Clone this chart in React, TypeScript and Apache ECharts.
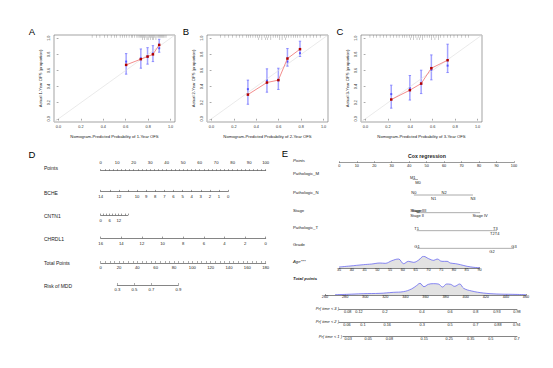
import React, { useEffect, useRef } from "react";
import * as echarts from "echarts";

const FONT = "'Liberation Sans', Arial, Helvetica, sans-serif";

// ===== Calibration panels A, B, C =====
const calTicks = [0, 0.2, 0.4, 0.6, 0.8, 1.0];
const calLimits = [-0.04, 1.04];

const aPred = [0.604, 0.735, 0.795, 0.843, 0.899];
const aObs = [0.669, 0.74, 0.772, 0.8, 0.917];
const aCorr = [0.71, 0.75, 0.775, 0.81, 0.876];
const aLo = [0.554, 0.628, 0.678, 0.71, 0.826];
const aHi = [0.809, 0.867, 0.883, 0.908, 0.987];
const aRug = [0.3, 0.34, 0.37, 0.41, 0.44, 0.47, 0.5, 0.52, 0.55, 0.57, 0.59, 0.61, 0.63, 0.65, 0.66, 0.68, 0.7, 0.71, 0.72, 0.73, 0.74, 0.75, 0.76, 0.77, 0.78, 0.79, 0.8, 0.81, 0.82, 0.83, 0.84, 0.85, 0.86, 0.87, 0.88, 0.89, 0.9, 0.91, 0.92, 0.93, 0.94, 0.95, 0.96];
const aRug2 = [0.75, 0.77, 0.79, 0.8, 0.82, 0.84, 0.85, 0.87];

const bPred = [0.325, 0.495, 0.597, 0.678, 0.79];
const bObs = [0.3, 0.45, 0.48, 0.748, 0.864];
const bCorr = [0.368, 0.475, 0.48, 0.71, 0.814];
const bLo = [0.18, 0.33, 0.364, 0.653, 0.773];
const bHi = [0.48, 0.62, 0.628, 0.872, 0.963];
const bRug = [0.08, 0.12, 0.15, 0.19, 0.22, 0.25, 0.28, 0.31, 0.33, 0.35, 0.37, 0.39, 0.41, 0.43, 0.45, 0.47, 0.49, 0.51, 0.53, 0.55, 0.57, 0.59, 0.61, 0.63, 0.65, 0.67, 0.69, 0.71, 0.73, 0.75, 0.77, 0.79, 0.82, 0.85, 0.88, 0.91, 0.94, 0.97];
const bRug2 = [0.42, 0.45, 0.48, 0.5, 0.53, 0.61, 0.63, 0.66];

const cPred = [0.23, 0.396, 0.497, 0.588, 0.733];
const cObs = [0.239, 0.355, 0.437, 0.628, 0.727];
const cCorr = [0.306, 0.38, 0.437, 0.607, 0.66];
const cLo = [0.132, 0.232, 0.313, 0.483, 0.574];
const cHi = [0.417, 0.537, 0.603, 0.793, 0.926];
const cRug = [0.04, 0.07, 0.1, 0.13, 0.16, 0.19, 0.22, 0.25, 0.28, 0.3, 0.33, 0.35, 0.37, 0.39, 0.41, 0.43, 0.45, 0.47, 0.49, 0.51, 0.53, 0.55, 0.57, 0.59, 0.61, 0.63, 0.65, 0.67, 0.7, 0.73, 0.76, 0.79, 0.82, 0.86, 0.89, 0.92];
const cRug2 = [0.4, 0.43, 0.46, 0.48, 0.51, 0.59, 0.62, 0.65];

// ===== Nomogram D =====
const dPointsLabels = [0, 10, 20, 30, 40, 50, 60, 70, 80, 90, 100];
const bcheLabels = [14, 12, 10, 9, 8, 7, 6, 5, 4, 3, 2, 1, 0];
const bcheValueRange = [14, 0];
const bchePointRange = [0, 77.2];
const cntn1Labels = [0, 6, 12];
const cntn1ValueRange = [0, 18];
const cntn1PointRange = [0, 16.4];
const chrdl1Labels = [16, 14, 12, 10, 8, 6, 4, 2, 0];
const chrdl1ValueRange = [16, 0];
const chrdl1PointRange = [0, 100];
const dTotalLabels = [0, 20, 40, 60, 80, 100, 120, 140, 160, 180];
const riskLabels = ["0.3", "0.5", "0.7", "0.9"];
const riskTotalPoints = [18.1, 36.7, 55.2, 84.7];

// ===== Nomogram E (Cox regression) =====
const ePointsLabels = [0, 10, 20, 30, 40, 50, 60, 70, 80, 90, 100];
const mLevels = ["M1", "M0"];
const mPoints = [42, 45];
const nLevels = ["N0", "N1", "N2", "N3"];
const nPoints = [42.7, 54, 60, 76.5];
const stageLevels = ["Stage I", "Stage II", "Stage III", "Stage IV"];
const stagePoints = [44.3, 44.5, 45.6, 80.6];
const tLevels = ["T1", "T2", "T3", "T4"];
const tPoints = [44.3, 87.6, 89.3, 90.3];
const gradeLevels = ["G1", "G2", "G3"];
const gradePoints = [44.5, 87.4, 100];
const ageLabels = [35, 40, 45, 50, 55, 60, 65, 70, 75, 80, 85, 90];
const ageDensX = [35, 39.3, 44.6, 47.8, 51.1, 53.1, 55.7, 58.3, 60.3, 62.2, 64.2, 66.2, 68.1, 70.1, 72.1, 73.4, 75.3, 77.3, 78.6, 80.6, 82.5, 85.2, 87.8, 90];
const ageDensY = [3, 6, 10, 12, 15, 14, 22, 27, 13, 20, 17, 24, 35, 28, 23, 27, 20, 20, 15, 13, 10, 5, 2, 1];
const eTotalLabels = [260, 280, 300, 320, 340, 360, 380, 400, 420, 440, 460];
const totDensX = [270, 281.6, 298, 314.7, 328, 338, 346, 351, 354.5, 358.5, 362.8, 367.8, 372.8, 377, 381, 385, 389, 394, 398, 406, 417.5, 431, 447, 460];
const totDensY = [1, 2, 4, 5, 8, 10, 18, 28, 35, 25, 32, 34, 33, 24, 33, 32, 26, 33, 20, 12, 6, 3, 2, 1];
const pr3Labels = ["0.08", "0.12", "0.2", "0.4", "0.6", "0.8", "0.93", "0.98"];
const pr3TotalPoints = [282.6, 293.8, 319.7, 356.5, 384.4, 410, 431, 451];
const pr2Labels = ["0.06", "0.1", "0.16", "0.3", "0.5", "0.7", "0.88", "0.94"];
const pr2TotalPoints = [281.8, 297.7, 321.9, 356.7, 384.4, 410, 432, 450.7];
const pr1Labels = ["0.03", "0.05", "0.08", "0.15", "0.25", "0.35", "0.5", "0.7"];
const pr1TotalPoints = [283, 303, 324, 358.7, 383.6, 405, 425, 451];

function steps(a: number, b: number, s: number) {
  const r: number[] = [];
  for (let v = a; v <= b + 1e-9; v += s) r.push(Math.round(v * 1000) / 1000);
  return r;
}

function buildOption() {
  const grid: any[] = [];
  const xAxis: any[] = [];
  const yAxis: any[] = [];
  const series: any[] = [];
  const graphic: any[] = [];

  const text = (x: number, y: number, t: string, o: any = {}) =>
    graphic.push({
      type: "text",
      x,
      y,
      silent: true,
      style: { text: t, fontFamily: FONT, fontSize: 5, fill: "#222", textAlign: "left", textVerticalAlign: "middle", ...o },
    });

  const addGrid = (left: number, top: number, width: number, height: number, extra: any = {}) => {
    const gi = grid.length;
    grid.push({ left, top, width, height, outerBoundsMode: "none", containLabel: false, ...extra });
    return gi;
  };

  // ---------- calibration ----------
  const calPanel = (left: number, pred: number[], obs: number[], corr: number[], lo: number[], hi: number[], rug: number[], rug2: number[], year: number) => {
    const gi = addGrid(left, 35, 121, 87, { show: true, borderColor: "#666", borderWidth: 0.6, backgroundColor: "transparent" });
    const common = {
      type: "value",
      gridIndex: gi,
      min: calLimits[0],
      max: calLimits[1],
      splitLine: { show: false },
      axisLine: { show: false },
      axisTick: { show: true, customValues: calTicks, length: 1.8, lineStyle: { color: "#555", width: 0.5 } },
    };
    const lab = { customValues: calTicks, formatter: (v: number) => v.toFixed(1), fontSize: 3.8, color: "#333", margin: 3, fontFamily: FONT };
    const nts = { fontSize: 4.2, color: "#222", fontFamily: FONT };
    xAxis.push({ ...common, axisLabel: lab, name: `Nomogram-Predicted Probability of ${year}-Year OFS`, nameLocation: "middle", nameGap: 12, nameTextStyle: nts });
    yAxis.push({ ...common, axisLabel: { ...lab, rotate: 90 }, name: `Actual ${year}-Year OFS (proportion)`, nameLocation: "middle", nameGap: 12, nameTextStyle: nts });
    const base = { xAxisIndex: gi, yAxisIndex: gi, silent: true, animation: false };
    series.push({ ...base, type: "line", data: calLimits.map((v) => [v, v]), showSymbol: false, lineStyle: { color: "#dcdcdc", width: 0.6 } });
    series.push({ ...base, type: "scatter", data: rug.map((v) => [v, 1.022]), symbol: "rect", symbolSize: [0.4, 2.8], itemStyle: { color: "#666" } });
    series.push({ ...base, type: "scatter", data: rug2.map((v) => [v, 0.994]), symbol: "rect", symbolSize: [0.4, 2.6], itemStyle: { color: "#666" } });
    series.push({
      ...base,
      type: "custom",
      data: pred.map((p, i) => [p, lo[i], hi[i]]),
      renderItem: (_p: any, api: any) => {
        const x = api.value(0);
        const a = api.coord([x, api.value(1)]);
        const b = api.coord([x, api.value(2)]);
        const c = 1.2;
        return {
          type: "group",
          children: [
            { type: "line", shape: { x1: a[0], y1: a[1], x2: b[0], y2: b[1] }, style: { stroke: "#a4a4ff", lineWidth: 1.5 } },
            { type: "line", shape: { x1: a[0] - c, y1: a[1], x2: a[0] + c, y2: a[1] }, style: { stroke: "#6a6aff", lineWidth: 0.7 } },
            { type: "line", shape: { x1: b[0] - c, y1: b[1], x2: b[0] + c, y2: b[1] }, style: { stroke: "#6a6aff", lineWidth: 0.7 } },
          ],
        };
      },
    });
    series.push({ ...base, type: "line", data: pred.map((p, i) => [p, obs[i]]), symbol: "rect", symbolSize: 2.5, itemStyle: { color: "#b00000" }, lineStyle: { color: "#f08080", width: 0.9 } });
    series.push({ ...base, type: "scatter", data: pred.map((p, i) => [p, corr[i]]), symbol: "rect", symbolSize: 2, itemStyle: { color: "#4040ff" } });
  };

  calPanel(54, aPred, aObs, aCorr, aLo, aHi, aRug, aRug2, 1);
  calPanel(207, bPred, bObs, bCorr, bLo, bHi, bRug, bRug2, 2);
  calPanel(361, cPred, cObs, cCorr, cLo, cHi, cRug, cRug2, 3);

  const letter = { fontSize: 9.5, fill: "#000", textAlign: "center" };
  text(32, 31, "A", letter);
  text(186, 31, "B", letter);
  text(340, 31, "C", letter);
  text(32, 154, "D", letter);
  text(285, 153, "E", letter);

  // ---------- generic nomogram row axis ----------
  const hiddenY = (gi: number, min = -1, max = 1) => yAxis.push({ type: "value", gridIndex: gi, show: false, min, max });
  const rowAxis = (gi: number, min: number, max: number, o: any) => {
    const labVals: number[] = o.labels;
    const names: string[] | undefined = o.names;
    xAxis.push({
      type: "value",
      gridIndex: gi,
      min,
      max,
      show: o.show !== false,
      inverse: !!o.inverse,
      position: o.position || "bottom",
      splitLine: { show: false },
      axisLine: { show: true, lineStyle: { color: o.lineColor || "#333", width: 0.6 } },
      axisTick: { show: o.tickLen > 0, inside: !!o.tickInside, length: o.tickLen || 0, customValues: o.ticks || labVals, lineStyle: { color: "#333", width: 0.5 } },
      axisLabel: {
        customValues: labVals,
        fontSize: o.fontSize || 4.2,
        color: "#222",
        margin: o.margin ?? 2,
        fontFamily: FONT,
        showMinLabel: true,
        showMaxLabel: true,
        formatter: (v: number) => {
          if (!names) return String(v);
          let best = 0;
          labVals.forEach((lv, i) => {
            if (Math.abs(lv - v) < Math.abs(labVals[best] - v)) best = i;
          });
          return names[best];
        },
      },
    });
  };

  // ---------- Nomogram D ----------
  const DX0 = 100.7;
  const DW = 165;
  const dRow = (label: string, labelY: number) => text(44, labelY, label, { fontSize: 5 });

  // Points
  let gi = addGrid(DX0, 170, DW, 1);
  rowAxis(gi, 0, 100, { labels: dPointsLabels, ticks: steps(0, 100, 2.5), position: "top", tickLen: 1.3, margin: 5.5 });
  hiddenY(gi);
  dRow("Points", 168);

  const varRow = (label: string, y: number, valueRange: number[], pointRange: number[], labels: number[], ticks: number[]) => {
    const pMin = Math.min(pointRange[0], pointRange[1]);
    const pMax = Math.max(pointRange[0], pointRange[1]);
    const g = addGrid(DX0 + (pMin / 100) * DW, y - 1, ((pMax - pMin) / 100) * DW, 1);
    const vMin = Math.min(valueRange[0], valueRange[1]);
    const vMax = Math.max(valueRange[0], valueRange[1]);
    const inverse = (valueRange[1] - valueRange[0]) * (pointRange[1] - pointRange[0]) < 0;
    rowAxis(g, vMin, vMax, { labels, ticks, inverse, tickLen: 1.6, tickInside: true, margin: 2.5 });
    hiddenY(g);
    dRow(label, y + 0.5);
  };
  varRow("BCHE", 192, bcheValueRange, bchePointRange, bcheLabels, steps(0, 14, 1));
  varRow("CNTN1", 215.7, cntn1ValueRange, cntn1PointRange, cntn1Labels, steps(0, 18, 2));
  varRow("CHRDL1", 238.7, chrdl1ValueRange, chrdl1PointRange, chrdl1Labels, chrdl1Labels);

  gi = addGrid(DX0, 262.3, DW, 1);
  rowAxis(gi, 0, 180, { labels: dTotalLabels, ticks: steps(0, 180, 5), tickLen: 1.6, tickInside: true, margin: 2.5 });
  hiddenY(gi);
  dRow("Total Points", 262.7);

  const riskLeft = DX0 + (riskTotalPoints[0] / 180) * DW;
  const riskW = ((riskTotalPoints[3] - riskTotalPoints[0]) / 180) * DW;
  gi = addGrid(riskLeft, 284.3, riskW, 1);
  rowAxis(gi, riskTotalPoints[0], riskTotalPoints[3], { labels: riskTotalPoints, names: riskLabels, tickLen: 1.6, tickInside: true, margin: 2.5 });
  hiddenY(gi);
  dRow("Risk of MDD", 286);

  // ---------- Nomogram E ----------
  const EX0 = 339.3;
  const EW = 174.7;
  const eFont = 4;
  const eLab = (y: number, t: string, o: any = {}) => text(293, y, t, { fontSize: 4.3, ...o });

  text(427, 156, "Cox regression", { fontSize: 5.2, fontWeight: "bold", textAlign: "center" });

  gi = addGrid(EX0, 162, EW, 1);
  rowAxis(gi, 0, 100, { labels: ePointsLabels, tickLen: 1.2, tickInside: true, fontSize: 3.8, margin: 0.6, lineColor: "#555" });
  hiddenY(gi);
  eLab(160, "Points", { fontStyle: "italic" });

  const catRow = (label: string, labelY: number, lineY: number, levels: string[], pts: number[]) => {
    const g = addGrid(EX0, lineY - 0.5, EW, 1);
    xAxis.push({ type: "value", gridIndex: g, min: 0, max: 100, show: false });
    hiddenY(g);
    series.push({
      type: "line",
      xAxisIndex: g,
      yAxisIndex: g,
      silent: true,
      data: pts.map((p, i) => ({
        value: [p, 0],
        label: {
          show: true,
          position: i % 2 === 0 ? "top" : "bottom",
          distance: i % 2 === 0 ? 0.2 : 1.2,
          formatter: levels[i],
          fontSize: eFont,
          color: "#222",
          fontFamily: FONT,
        },
      })),
      showSymbol: true,
      symbol: "circle",
      symbolSize: 0.01,
      itemStyle: { color: "#999" },
      lineStyle: { color: "#a0a0a0", width: 0.9 },
    });
    eLab(labelY, label);
  };
  catRow("Pathologic_M", 173, 179.5, mLevels, mPoints);
  catRow("Pathologic_N", 192, 195, nLevels, nPoints);
  catRow("Stage", 210, 212.7, stageLevels, stagePoints);
  catRow("Pathologic_T", 227, 230.7, tLevels, tPoints);
  catRow("Grade", 244.5, 248.3, gradeLevels, gradePoints);

  // Age with density
  gi = addGrid(339, 256, 140.5, 12);
  rowAxis(gi, 35, 90, { labels: ageLabels, tickLen: 1, tickInside: true, fontSize: 3.8, margin: 0.4 });
  hiddenY(gi, 0, 36);
  series.push({
    type: "line",
    xAxisIndex: gi,
    yAxisIndex: gi,
    silent: true,
    smooth: 0.4,
    showSymbol: false,
    data: ageDensX.map((x, i) => [x, ageDensY[i]]),
    lineStyle: { color: "#5858f0", width: 0.7 },
    areaStyle: { color: "#e2e2e2", opacity: 1 },
  });
  eLab(261, "Age***", { fontStyle: "italic" });

  // Total points with density
  gi = addGrid(325, 283, 201, 12);
  rowAxis(gi, 260, 460, { labels: eTotalLabels, tickLen: 1, tickInside: true, fontSize: 3.8, margin: 0.4 });
  hiddenY(gi, 0, 36);
  series.push({
    type: "line",
    xAxisIndex: gi,
    yAxisIndex: gi,
    silent: true,
    smooth: 0.4,
    showSymbol: false,
    data: totDensX.map((x, i) => [x, totDensY[i]]),
    lineStyle: { color: "#5858f0", width: 0.7 },
    areaStyle: { color: "#e2e2e2", opacity: 1 },
  });
  eLab(278, "Total points", { fontStyle: "italic", fontWeight: "bold" });

  // Probability rows (in total points units)
  const TP0 = 325;
  const TPPX = 1.005;
  const prRow = (label: string, y: number, startPts: number, labels: string[], pts: number[], labelRight: number) => {
    const endPts = pts[pts.length - 1];
    const g = addGrid(TP0 + (startPts - 260) * TPPX, y - 1, (endPts - startPts) * TPPX, 1);
    rowAxis(g, startPts, endPts, { labels: pts, names: labels, tickLen: 0, fontSize: 3.8, margin: 0.6 });
    hiddenY(g);
    text(labelRight, y - 0.5, label, { fontSize: 4, fontStyle: "italic", textAlign: "right" });
  };
  prRow("Pr( time < 3 )", 309.3, 274, pr3Labels, pr3TotalPoints, 339);
  prRow("Pr( time < 2 )", 322.3, 274, pr2Labels, pr2TotalPoints, 339);
  prRow("Pr( time < 1 )", 336.5, 278, pr1Labels, pr1TotalPoints, 342);

  return {
    animation: false,
    backgroundColor: "#ffffff",
    textStyle: { fontFamily: FONT },
    grid,
    xAxis,
    yAxis,
    series,
    graphic: { elements: graphic },
  };
}

export default function App() {
  const ref = useRef<HTMLDivElement>(null);
  useEffect(() => {
    if (!ref.current) return;
    const chart = echarts.init(ref.current, null, { renderer: "svg", width: 553, height: 368 });
    chart.setOption(buildOption() as any);
    return () => chart.dispose();
  }, []);
  return (
    <div
      ref={ref}
      style={{ position: "absolute", left: 0, top: 0, width: 553, height: 368, background: "#fff" }}
    />
  );
}
